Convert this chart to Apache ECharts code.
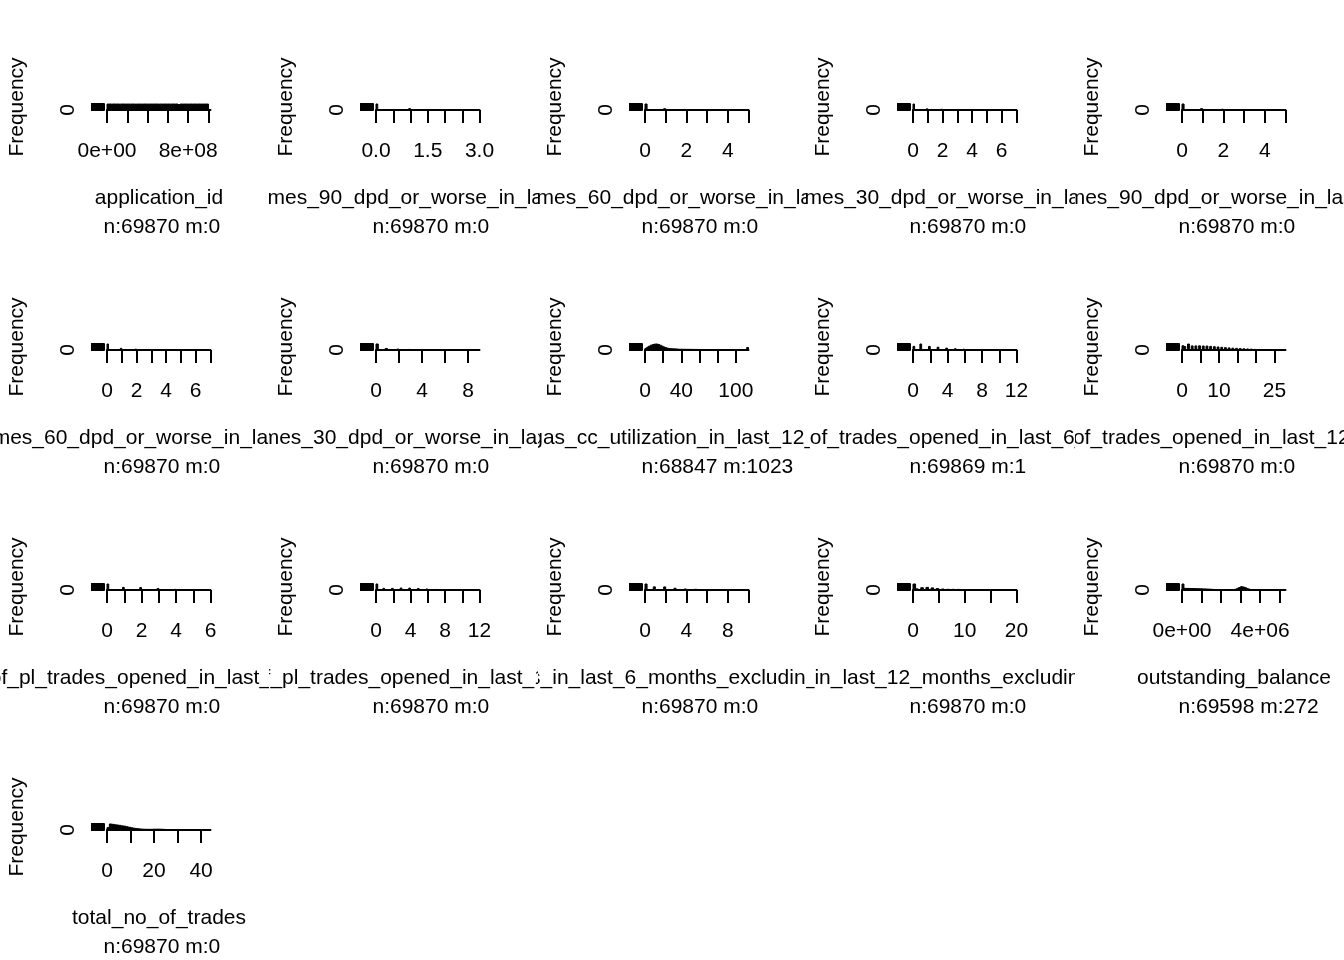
<!DOCTYPE html>
<html><head><meta charset="utf-8">
<script src="https://cdn.jsdelivr.net/npm/echarts@6/dist/echarts.min.js"></script>
<style>
html,body{margin:0;padding:0;background:#fff;width:1344px;height:960px;overflow:hidden;position:relative}
.p{position:absolute;overflow:hidden}
</style></head><body>
<script>
// ---- panel names (variables) and n/m info ----
const panelNames = [
  'application_id',
  'no_of_times_90_dpd_or_worse_in_last_6_months',
  'no_of_times_60_dpd_or_worse_in_last_6_months',
  'no_of_times_30_dpd_or_worse_in_last_6_months',
  'no_of_times_90_dpd_or_worse_in_last_12_months',
  'no_of_times_60_dpd_or_worse_in_last_12_months',
  'no_of_times_30_dpd_or_worse_in_last_12_months',
  'avgas_cc_utilization_in_last_12_months',
  'no_of_trades_opened_in_last_6_months',
  'no_of_trades_opened_in_last_12_months',
  'no_of_pl_trades_opened_in_last_6_months',
  'no_of_pl_trades_opened_in_last_12_months',
  'no_of_inquiries_in_last_6_months_excluding_home_auto_loans',
  'no_of_inquiries_in_last_12_months_excluding_home_auto_loans',
  'outstanding_balance',
  'total_no_of_trades'
];
const panelNM = [
  'n:69870 m:0','n:69870 m:0','n:69870 m:0','n:69870 m:0','n:69870 m:0',
  'n:69870 m:0','n:69870 m:0','n:68847 m:1023','n:69869 m:1','n:69870 m:0',
  'n:69870 m:0','n:69870 m:0','n:69870 m:0','n:69870 m:0','n:69598 m:272',
  'n:69870 m:0'
];

// ---- histogram break ranges and bin widths ----
const breakMin  = [0,0,0,0,0, 0,0,0,0,0, 0,0,0,0,0, 0];
const breakMax  = [1.02e9,3,5,7,5, 7,9,114,12,28, 6,12,10,20,5.3e6, 44];
const breakStep = [2e7,0.05,0.1,0.1,0.1, 0.1,0.2,2,0.2,0.5, 0.1,0.2,0.2,0.5,1e5, 1];

// ---- x axis ticks and the labels that are shown ----
const xTicks = [
  [0,2e8,4e8,6e8,8e8,1e9],
  [0,0.5,1,1.5,2,2.5,3],
  [0,1,2,3,4,5],
  [0,1,2,3,4,5,6,7],
  [0,1,2,3,4,5],
  [0,1,2,3,4,5,6,7],
  [0,2,4,6,8],
  [0,20,40,60,80,100],
  [0,2,4,6,8,10,12],
  [0,5,10,15,20,25],
  [0,1,2,3,4,5,6],
  [0,2,4,6,8,10,12],
  [0,2,4,6,8,10],
  [0,5,10,15,20],
  [0,1e6,2e6,3e6,4e6,5e6],
  [0,10,20,30,40]
];
const xLabelVals = [
  [0,8e8],[0,1.5,3],[0,2,4],[0,2,4,6],[0,2,4],
  [0,2,4,6],[0,4,8],[0,40,100],[0,4,8,12],[0,10,25],
  [0,2,4,6],[0,4,8,12],[0,4,8],[0,10,20],[0,4e6],
  [0,20,40]
];
const xLabelTexts = [
  ['0e+00','8e+08'],['0.0','1.5','3.0'],['0','2','4'],['0','2','4','6'],['0','2','4'],
  ['0','2','4','6'],['0','4','8'],['0','40','100'],['0','4','8','12'],['0','10','25'],
  ['0','2','4','6'],['0','4','8','12'],['0','4','8'],['0','10','20'],['0e+00','4e+06'],
  ['0','20','40']
];

// ---- data: bin counts (continuous variables) ----
const applicationIdBinCounts = [
  1392,1405,1388,1410,1396,1401,1384,1407,1399,1393,
  1402,1390,1408,1395,1386,1404,1397,1391,1406,1399,
  1389,1403,1394,1400,1409,1387,1398,1392,1405,1396,
  1401,1385,1407,1393,1399,1260,1402,1390,1404,1397,
  1388,1406,1395,1400,1391,1403,1398,1389,1405,1396,
  4
];
const ccUtilBinCounts = [
  1500,2600,3500,4300,4900,5300,5400,5000,4300,3500,
  2700,2100,1600,1300,1150,1050,1000,950,700,680,
  660,640,620,600,580,560,540,520,500,480,
  460,440,420,400,390,380,370,360,350,340,
  330,320,310,300,290,280,270,260,250,240,
  220,190,150,100,60,30,2300
];
const outstandingBinCounts = [
  9900,2700,2600,2600,2500,2500,2300,2200,2100,2000,
  1900,1800,1700,1500,1300,1100,800,500,300,200,
  150,120,100,100,110,150,400,1200,2600,4200,
  5500,5000,3800,2400,1300,600,250,60,40,30,
  20,15,10,8,6,5,4,3,2,2,
  1,1,1
];
const totalTradesBinCounts = [
  2800,7000,6600,6100,5800,5400,4800,4500,3800,3200,
  2600,2100,1700,1400,1100,950,850,800,800,850,
  950,1000,950,850,700,550,420,320,250,190,
  150,110,80,60,45,35,25,18,12,8,
  5,3,2,1
];

// ---- data: counts per value (discrete variables) ----
const dpd90m6Values = [0,1,2,3];
const dpd90m6Counts = [54664,13219,1776,211];
const dpd60m6Values = [0,1,2,3,4,5];
const dpd60m6Counts = [51870,11132,4917,1469,398,84];
const dpd30m6Values = [0,1,2,3,4,5,6,7];
const dpd30m6Counts = [50098,9500,5897,2829,1045,386,96,19];
const dpd90m12Values = [0,1,2,3,4,5];
const dpd90m12Counts = [50492,11663,6160,1186,330,39];
const dpd60m12Values = [0,1,2,3,4,5,6,7];
const dpd60m12Counts = [45868,12816,6414,3205,1111,340,100,16];
const dpd30m12Values = [0,1,2,3,4,5,6,7,8,9];
const dpd30m12Counts = [44857,11474,6116,4139,2068,812,290,85,23,6];
const trades6Values = [0,1,2,3,4,5,6,7,8,9,10,11,12];
const trades6Counts = [12193,20114,12133,9405,6288,4277,2545,1500,700,400,200,90,24];
const trades12Values = [0,1,2,3,4,5,6,7,8,9,10,11,12,13,14,15,16,17,18,19,20,21,22,23,24,25,26,27,28];
const trades12Counts = [4865,4000,6900,4700,4700,4800,4600,4500,4200,3800,3500,3100,2700,2400,2100,1900,1600,1400,1200,1000,700,500,300,200,100,60,30,10,5];
const plTrades6Values = [0,1,2,3,4,5,6];
const plTrades6Counts = [31000,13600,12700,8100,3300,960,210];
const plTrades12Values = [0,1,2,3,4,5,6,7,8,9,10,11,12];
const plTrades12Counts = [25000,6800,6800,8100,7900,6200,4200,2400,1300,650,330,150,40];
const inq6Values = [0,1,2,3,4,5,6,7,8,9,10];
const inq6Counts = [24900,13000,12800,7200,4400,3000,2000,1300,700,400,170];
const inq12Values = [0,1,2,3,4,5,6,7,8,9,10,11,12,13,14,15,16,17,18,19,20];
const inq12Counts = [20500,3900,7900,8900,7100,4900,3400,2500,2200,2000,1700,1400,1100,800,600,400,250,150,80,50,40];

// ---- histogram assembly (R style right-closed bins) ----
function binsFromCounts(i, counts) {
  const out = [];
  counts.forEach((c, k) => {
    if (c > 0) out.push([breakMin[i] + k * breakStep[i], breakMin[i] + (k + 1) * breakStep[i], c]);
  });
  return out;
}
function binsFromValues(i, vals, counts) {
  const s = breakStep[i];
  const nb = Math.round((breakMax[i] - breakMin[i]) / s);
  const arr = new Array(nb).fill(0);
  vals.forEach((v, j) => {
    const idx = v === breakMin[i] ? 0 : Math.round((v - breakMin[i]) / s) - 1;
    arr[idx] += counts[j];
  });
  return binsFromCounts(i, arr);
}
const panelBins = [
  binsFromCounts(0, applicationIdBinCounts),
  binsFromValues(1, dpd90m6Values, dpd90m6Counts),
  binsFromValues(2, dpd60m6Values, dpd60m6Counts),
  binsFromValues(3, dpd30m6Values, dpd30m6Counts),
  binsFromValues(4, dpd90m12Values, dpd90m12Counts),
  binsFromValues(5, dpd60m12Values, dpd60m12Counts),
  binsFromValues(6, dpd30m12Values, dpd30m12Counts),
  binsFromCounts(7, ccUtilBinCounts),
  binsFromValues(8, trades6Values, trades6Counts),
  binsFromValues(9, trades12Values, trades12Counts),
  binsFromValues(10, plTrades6Values, plTrades6Counts),
  binsFromValues(11, plTrades12Values, plTrades12Counts),
  binsFromValues(12, inq6Values, inq6Counts),
  binsFromValues(13, inq12Values, inq12Counts),
  binsFromCounts(14, outstandingBinCounts),
  binsFromCounts(15, totalTradesBinCounts)
];

const FONT = '"Liberation Sans", Arial, sans-serif';
const FS = 21;
const COLW = 1344 / 5;

function renderBar(params, api) {
  const p0 = api.coord([api.value(0), 0]);
  const p1 = api.coord([api.value(1), api.value(2)]);
  return {
    type: 'rect',
    shape: { x: p0[0], y: p1[1], width: p1[0] - p0[0], height: p0[1] - p1[1] },
    style: { fill: '#000', stroke: '#000', lineWidth: 1 }
  };
}

for (let i = 0; i < panelNames.length; i++) {
  const r = Math.floor(i / 5), c = i % 5;
  const left = Math.round(c * COLW);
  const w = Math.round((c + 1) * COLW) - left;
  const div = document.createElement('div');
  div.className = 'p';
  div.style.left = left + 'px';
  div.style.top = (r * 240) + 'px';
  div.style.width = w + 'px';
  div.style.height = '240px';
  document.body.appendChild(div);
  const chart = echarts.init(div, null, { renderer: 'canvas' });
  const maxCount = Math.max(...panelBins[i].map(b => b[2]));
  const lv = xLabelVals[i], lt = xLabelTexts[i];
  chart.setOption({
    animation: false,
    grid: { left: 107, top: 104, width: 103.5, height: 6, containLabel: false },
    xAxis: {
      type: 'value', min: breakMin[i], max: breakMax[i],
      axisLine: { show: true, onZero: false, lineStyle: { color: '#000', width: 2 } },
      axisTick: { show: true, customValues: xTicks[i], length: 13, lineStyle: { color: '#000', width: 2 } },
      axisLabel: {
        customValues: lv, margin: 30.5, color: '#000', fontSize: FS, fontFamily: FONT,
        formatter: v => { const k = lv.findIndex(x => Math.abs(x - v) < 1e-9 * (1 + Math.abs(x))); return k >= 0 ? lt[k] : ''; }
      },
      splitLine: { show: false }
    },
    yAxis: {
      type: 'value', min: 0, max: maxCount, offset: 3, splitNumber: 7,
      name: 'Frequency', nameLocation: 'middle', nameRotate: 90, nameGap: 76.5,
      nameTextStyle: { color: '#000', fontSize: FS, fontFamily: FONT },
      axisLine: { show: true, onZero: false, lineStyle: { color: '#000', width: 2 } },
      axisTick: { show: true, length: 13, lineStyle: { color: '#000', width: 2 } },
      axisLabel: {
        rotate: 90, margin: 25.5, color: '#000', fontSize: FS, fontFamily: FONT,
        formatter: v => (v === 0 ? '0' : '')
      },
      splitLine: { show: false }
    },
    series: [{
      type: 'custom', renderItem: renderBar, data: panelBins[i],
      encode: { x: [0, 1], y: 2 }, silent: true, clip: false
    }],
    graphic: [
      { type: 'text', x: 159, y: 198, silent: true,
        style: { text: panelNames[i], fill: '#000', font: FS + 'px ' + FONT, align: 'center', verticalAlign: 'middle' } },
      { type: 'text', x: 103.5, y: 227, silent: true,
        style: { text: panelNM[i], fill: '#000', font: FS + 'px ' + FONT, align: 'left', verticalAlign: 'middle' } }
    ]
  });
}
</script>
</body></html>
